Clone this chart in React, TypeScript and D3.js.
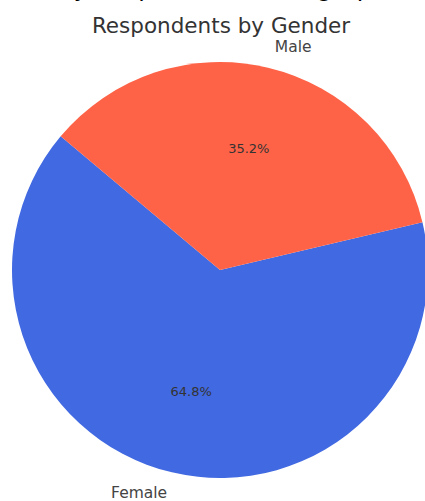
import React from "react";
import * as d3 from "d3";

const categories = ["Female", "Male"];
const values = [64.8, 35.2];
const colors = ["#4169E1", "#FF6347"];
const title = "Respondents by Gender";
const topTitle = "Survey Respondent Demographics";

const W = 425;
const H = 501;

export default function App() {
  const cx = 220;
  const cy = 270;
  const r = 208;
  const start = (-50 * Math.PI) / 180;
  const pie = d3
    .pie<number>()
    .sort(null)
    .value((d) => d)
    .startAngle(start)
    .endAngle(start - 2 * Math.PI);
  const arcs = pie(values);
  const arc = d3.arc<d3.PieArcDatum<number>>().innerRadius(0).outerRadius(r);
  const total = d3.sum(values);

  return (
    <svg
      width={W}
      height={H}
      style={{ position: "absolute", left: 0, top: 0, background: "#fff" }}
      fontFamily="DejaVu Sans, sans-serif"
    >
      <text x={212} y={-4} textAnchor="middle" fontSize={24} fill="#000">
        {topTitle}
      </text>
      <text x={221} y={33} textAnchor="middle" fontSize={21.5} fill="#333">
        {title}
      </text>
      <g transform={`translate(${cx},${cy})`}>
        {arcs.map((a, i) => (
          <path key={categories[i]} d={arc(a) || ""} fill={colors[i]} />
        ))}
        {arcs.map((a, i) => {
          const mid = (a.startAngle + a.endAngle) / 2;
          const lx = Math.sin(mid) * r * 1.1;
          const ly = -Math.cos(mid) * r * 1.1;
          const px = Math.sin(mid) * r * 0.6;
          const py = -Math.cos(mid) * r * 0.6;
          return (
            <g key={"lbl" + i}>
              <text
                x={lx > 0 ? lx + 2 : lx}
                y={ly}
                textAnchor={lx > 0 ? "start" : "end"}
                dominantBaseline="central"
                fontSize={15.5}
                fill="#444"
              >
                {categories[i]}
              </text>
              <text
                x={px}
                y={py}
                textAnchor="middle"
                dominantBaseline="central"
                fontSize={13}
                fill="#333"
              >
                {((values[i] / total) * 100).toFixed(1) + "%"}
              </text>
            </g>
          );
        })}
      </g>
    </svg>
  );
}
